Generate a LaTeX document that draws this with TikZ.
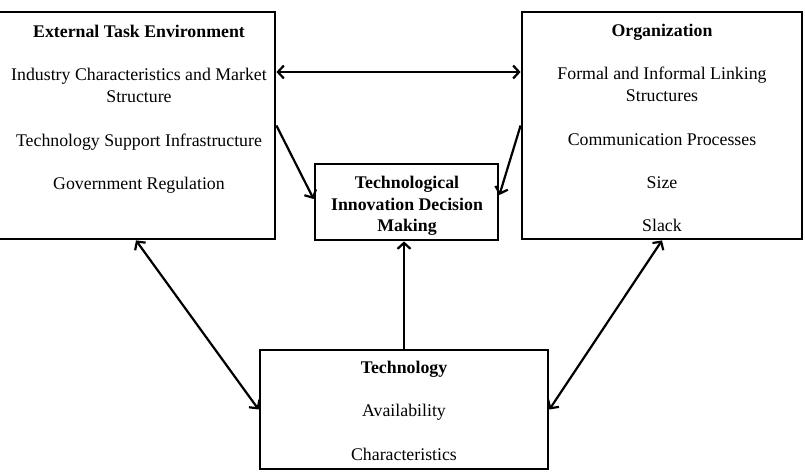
\documentclass[tikz,border=0pt]{standalone}
\usepackage{fontspec}
\setmainfont{Liberation Serif}
\usetikzlibrary{arrows.meta,calc}
\begin{document}
\begin{tikzpicture}[x=1pt,y=-1pt,
  box/.style={draw, line width=2.8pt, inner sep=0pt},
  txt/.style={anchor=north, align=center, inner sep=0pt, font=\fontsize{17.8}{21.7}\selectfont},
  conn/.style={line width=2.2pt, -{Straight Barb[length=6pt,width=13pt,line width=2.2pt]}},
  dconn/.style={line width=2.2pt, {Straight Barb[length=6pt,width=13pt,line width=2.2pt]}-{Straight Barb[length=6pt,width=13pt,line width=2.2pt]}}]
\useasboundingbox (0,0) rectangle (805,476);
\node[box, minimum width=278pt, minimum height=227pt] (lbox) at (136,125.5) {};
\node[box, minimum width=280pt, minimum height=227pt] (rbox) at (662,125.5) {};
\node[box, minimum width=183pt, minimum height=76pt] (mid) at (406.5,202) {};
\node[box, minimum width=288pt, minimum height=119pt] (tech) at (404,409.5) {};
\node[txt] (ltxt) at (139,25) {\textbf{External Task Environment}\\[21.7pt]
  Industry Characteristics and Market\\Structure\\[21.7pt]
  Technology Support Infrastructure\\[21.7pt]
  Government Regulation};
\node[txt] (rtxt) at (662,24) {\textbf{Organization}\\[21.7pt]
  Formal and Informal Linking\\Structures\\[21.7pt]
  Communication Processes\\[21.7pt]
  Size\\[21.7pt]
  Slack};
\node[txt] (mtxt) at (407,176) {\textbf{Technological}\\\textbf{Innovation Decision}\\\textbf{Making}};
\node[txt] (ttxt) at (404,361) {\textbf{Technology}\\[21.7pt]
  Availability\\[21.7pt]
  Characteristics};
\coordinate (h) at (400,72);
\draw[dconn] (lbox.east |- h) -- (rbox.west |- h);
\draw[conn] (lbox.east) -- ([yshift=3pt]mid.west);
\draw[conn] (rbox.east -| rbox.west) -- ([yshift=7pt]mid.east);
\draw[conn] (tech.north) -- (tech.north |- mid.south);
\draw[dconn] (lbox.south) -- (tech.west);
\draw[dconn] (rbox.south) -- (tech.east);
\end{tikzpicture}
\end{document}
